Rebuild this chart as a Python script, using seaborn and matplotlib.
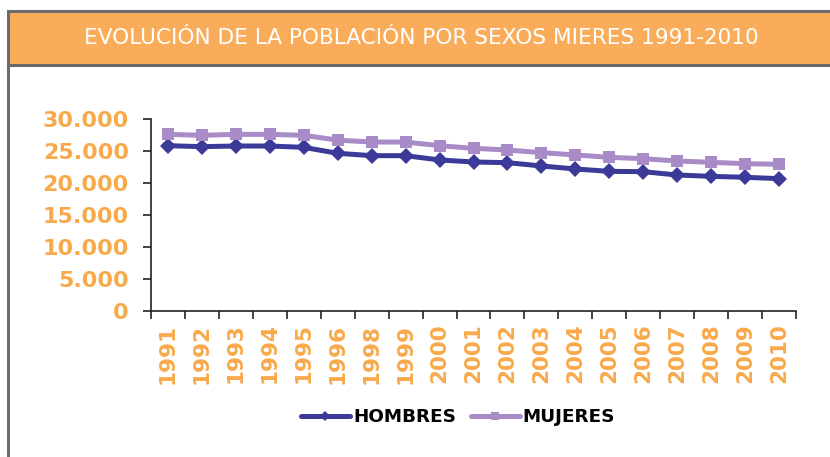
import numpy as np
import pandas as pd
import matplotlib
matplotlib.use("Agg")
import matplotlib.pyplot as plt
import seaborn as sns
from matplotlib.patches import Rectangle
from matplotlib.lines import Line2D
from matplotlib.ticker import FuncFormatter

# Data
years = ["1991", "1992", "1993", "1994", "1995", "1996", "1998", "1999", "2000", "2001",
         "2002", "2003", "2004", "2005", "2006", "2007", "2008", "2009", "2010"]
hombres = [25830, 25680, 25780, 25780, 25570, 24640, 24270, 24270, 23600, 23280,
           23180, 22660, 22190, 21820, 21770, 21250, 21040, 20890, 20680]
mujeres = [27600, 27450, 27600, 27600, 27450, 26700, 26400, 26400, 25830, 25420,
           25160, 24740, 24380, 24010, 23800, 23440, 23230, 23020, 22920]
series_names = ["HOMBRES", "MUJERES"]

TITLE = "EVOLUCIÓN DE LA POBLACIÓN POR SEXOS MIERES 1991-2010"
ORANGE = "#f9ad5a"
TICK_ORANGE = "#f9a94b"
BLUE = "#3b3a98"
LAVENDER = "#a98bc8"
GRAY = "#6b6b6b"

df = pd.DataFrame({
    "year": years * 2,
    "value": hombres + mujeres,
    "serie": [series_names[0]] * len(years) + [series_names[1]] * len(years),
})

sns.set_style("white")
plt.rcParams["font.family"] = ["DejaVu Sans"]

W, H = 830, 457
fig = plt.figure(figsize=(W / 100, H / 100), dpi=100)

# frame and title bar (figure pixels -> fraction)
def fx(px):
    return px / W

def fy(py):
    return 1 - py / H

fig.patches.append(Rectangle((fx(7.5), fy(64.5)), 1.0, fy(10.5) - fy(64.5),
                             transform=fig.transFigure, facecolor=ORANGE,
                             edgecolor=GRAY, linewidth=2.2, zorder=0))
fig.lines.append(Line2D([fx(7.5), fx(7.5)], [fy(64), 0], transform=fig.transFigure,
                        color=GRAY, linewidth=2.2))
fig.text(fx(421), fy(38), TITLE, color="white", fontsize=15.6, ha="center", va="center",
         family=["Liberation Sans Narrow", "DejaVu Sans"])

ax = fig.add_axes([fx(151), fy(311), fx(796) - fx(151), fy(119) - fy(311)])

sns.lineplot(data=df, x="year", y="value", hue="serie", style="serie",
             palette={"HOMBRES": BLUE, "MUJERES": LAVENDER},
             markers={"HOMBRES": "D", "MUJERES": "s"},
             dashes=False, sort=False, linewidth=3.6, markersize=8.5,
             markeredgewidth=0, legend=False, ax=ax)

n = len(years)
ax.set_xlim(-0.5, n - 0.5)
ax.set_ylim(0, 30000)
ax.set_yticks(np.arange(0, 30001, 5000))
ax.yaxis.set_major_formatter(FuncFormatter(lambda v, p: f"{int(v):,}".replace(",", ".")))
ax.set_xticks(range(n))
ax.set_xticklabels(years, rotation=90)
ax.set_xticks(np.arange(-0.5, n, 1.0), minor=True)
ax.tick_params(axis="x", which="major", bottom=True, length=0, pad=9)
ax.tick_params(axis="x", which="minor", bottom=True, length=6, width=1.2,
               color="#222222", direction="out")
ax.tick_params(axis="y", left=True, length=6, width=1.2, color="#222222",
               direction="out", pad=10)
for lab in ax.get_xticklabels() + ax.get_yticklabels():
    lab.set_color(TICK_ORANGE)
    lab.set_fontweight("bold")
for lab in ax.get_yticklabels():
    lab.set_fontsize(16)
for lab in ax.get_xticklabels():
    lab.set_fontsize(15.5)
ax.set_xlabel("")
ax.set_ylabel("")
for side in ["top", "right"]:
    ax.spines[side].set_visible(False)
for side in ["left", "bottom"]:
    ax.spines[side].set_color("#222222")
    ax.spines[side].set_linewidth(1.2)
ax.set_facecolor("none")

handles = [
    Line2D([], [], color=BLUE, linewidth=3.6, marker="D", markersize=5, markeredgewidth=0),
    Line2D([], [], color=LAVENDER, linewidth=3.6, marker="s", markersize=6, markeredgewidth=0),
]
leg = fig.legend(handles, series_names, loc="center", bbox_to_anchor=(fx(458), fy(417)),
                 ncol=2, frameon=False, handlelength=2.7, handletextpad=0.15, columnspacing=0.8,
                 prop={"weight": "bold", "size": 13.2})
for t in leg.get_texts():
    t.set_color("black")

fig.savefig("out.png", dpi=100)
